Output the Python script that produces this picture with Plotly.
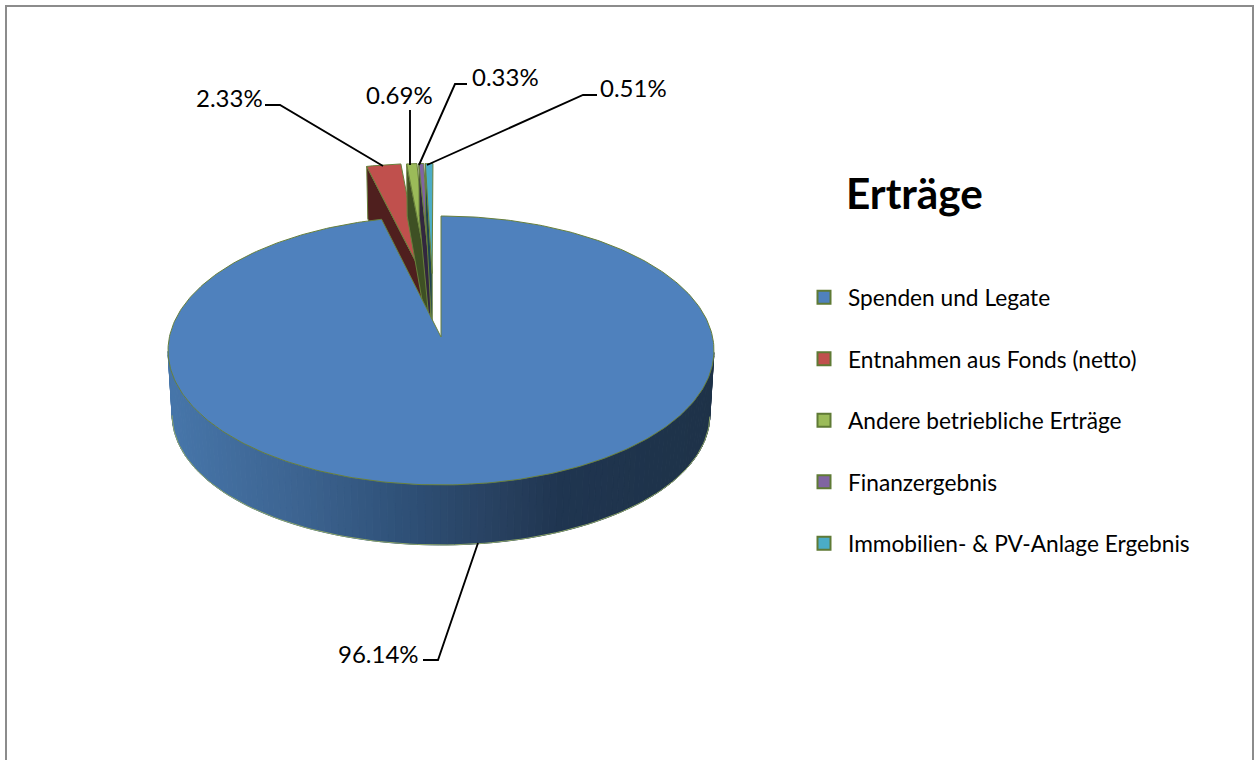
import math
import plotly.graph_objects as go

# ---------- data ----------
categories = ["Spenden und Legate", "Entnahmen aus Fonds (netto)", "Andere betriebliche Erträge",
              "Finanzergebnis", "Immobilien- & PV-Anlage Ergebnis"]
values = [96.14, 2.33, 0.69, 0.33, 0.51]
title_text = "Erträge"

# ---------- style ----------
top_colors = ["#4f81bd", "#c0504d", "#9bbb59", "#8064a2", "#4bacc6"]
wall_colors = ["#1f3550", "#4f1f1e", "#3e5024", "#32273f", "#1e4450"]
edge = "#68803c"
FONT = "Lato"
W, H = 1255, 760

# perspective model of the pie disc (unit disc -> pixels)
CX, CY, A, B, K = 441.0, 337.0, 271.6, 133.1, 0.1004
SHRINK = 0.985


def project(u, v):
    w = 1 + K * v
    return CX + A * u / w, CY - B * v / w


def depth(v):
    return 64 - 0.8 * v - 4.8 * v * v


def lower(u, v):
    x, y = project(u, v)
    return CX + (x - CX) * SHRINK, y + depth(v)


def lerp_color(x):
    stops = [(172, (70, 117, 169)), (300, (60, 99, 144)), (400, (47, 81, 120)),
             (500, (39, 64, 95)), (560, (31, 53, 80)), (714, (30, 50, 72))]
    if x <= stops[0][0]:
        c = stops[0][1]
    elif x >= stops[-1][0]:
        c = stops[-1][1]
    else:
        for (x0, c0), (x1, c1) in zip(stops, stops[1:]):
            if x0 <= x <= x1:
                t = (x - x0) / (x1 - x0)
                c = tuple(round(a + (b - a) * t) for a, b in zip(c0, c1))
                break
    return "rgb(%d,%d,%d)" % c


total = sum(values)
# angles clockwise from 12 o'clock
bounds = [0.0]
for val in values:
    bounds.append(bounds[-1] + val / total * 2 * math.pi)


def arc(t0, t1, n):
    return [t0 + (t1 - t0) * i / n for i in range(n + 1)]


fig = go.Figure()


def poly(xs, ys, fill, line=None, width=1):
    fig.add_trace(go.Scatter(
        x=xs, y=ys, mode="lines", fill="toself", fillcolor=fill,
        line=dict(color=line or fill, width=width), hoverinfo="skip", showlegend=False))


# exploded small slices, back to front
for i in range(1, len(values)):
    t0, t1 = bounds[i], bounds[i + 1]
    mid = (t0 + t1) / 2
    u0 = -0.03 + 0.26 * math.sin(mid)
    v0 = 0.5
    ue, ve = u0 + math.sin(t0), v0 + math.cos(t0)
    # inner wall under the left radial edge
    p1 = project(ue, ve)
    p2 = lower(ue, ve)
    p3 = lower(u0, v0)
    p4 = project(u0, v0)
    poly([p1[0], p2[0], p3[0], p4[0], p1[0]], [p1[1], p2[1], p3[1], p4[1], p1[1]], wall_colors[i], edge)
    xs, ys = [p4[0]], [p4[1]]
    for t in arc(t0, t1, 6):
        q = project(u0 + math.sin(t), v0 + math.cos(t))
        xs.append(q[0])
        ys.append(q[1])
    xs.append(p4[0])
    ys.append(p4[1])
    poly(xs, ys, top_colors[i], edge)

# main slice: front wall made of shaded strips
t0, t1 = bounds[0], bounds[1]
ts = [t for t in arc(t0, t1, 240) if math.cos(t) < -0.1]
for a, b in zip(ts, ts[1:]):
    p1 = project(math.sin(a), math.cos(a))
    p2 = project(math.sin(b), math.cos(b))
    p3 = lower(math.sin(b), math.cos(b))
    p4 = lower(math.sin(a), math.cos(a))
    poly([p1[0], p2[0], p3[0], p4[0], p1[0]], [p1[1], p2[1], p3[1], p4[1], p1[1]],
         lerp_color((p1[0] + p2[0]) / 2))
low = [lower(math.sin(t), math.cos(t)) for t in ts]
fig.add_trace(go.Scatter(x=[p[0] for p in low], y=[p[1] for p in low], mode="lines",
                         line=dict(color="#8ea66a", width=1), hoverinfo="skip", showlegend=False))

# main slice: top surface
pts = [project(0, 0)] + [project(math.sin(t), math.cos(t)) for t in arc(t0, t1, 360)] + [project(0, 0)]
poly([p[0] for p in pts], [p[1] for p in pts], top_colors[0], edge)

# legend entries
for i, name in enumerate(categories):
    fig.add_trace(go.Scatter(
        x=[None], y=[None], mode="markers", name=name, legendgroup=str(i),
        marker=dict(symbol="square", size=13, color=top_colors[i], line=dict(color="#5f7a35", width=2))))

# leader lines and labels
leaders = [
    ([478, 438, 423], [543, 660, 660], 378, 653),
    ([383, 280, 265], [166, 105, 105], 229, 97),
    ([410, 410], [165, 110], 399, 94),
    ([419, 455, 467], [165, 84, 84], 505, 76),
    ([427, 583, 597], [165, 95, 95], 633, 87),
]
for val, (lx, ly, tx, ty) in zip(values, leaders):
    fig.add_trace(go.Scatter(x=lx, y=ly, mode="lines", line=dict(color="#000000", width=1.9),
                             hoverinfo="skip", showlegend=False))
    fig.add_annotation(x=tx, y=ty, xref="x", yref="y", text=f"{val:.2f}%", showarrow=False,
                       font=dict(family=FONT, size=24, color="#000000"))

fig.update_layout(
    width=W, height=H, margin=dict(l=0, r=0, t=0, b=0),
    paper_bgcolor="white", plot_bgcolor="white",
    xaxis=dict(range=[0, W], visible=False, fixedrange=True),
    yaxis=dict(range=[H, 0], visible=False, fixedrange=True),
    title=dict(text=f"<b>{title_text}</b>", x=846 / W, xanchor="left", y=1 - 194 / H, yanchor="middle",
               font=dict(family=FONT, size=42.3, color="#000000")),
    legend=dict(x=800 / W, xanchor="left", y=1 - 276 / H, yanchor="top", tracegroupgap=29, itemwidth=38,
                font=dict(family=FONT, size=22.7, color="#000000"), bgcolor="rgba(0,0,0,0)"),
    shapes=[dict(type="rect", xref="paper", yref="paper", x0=6 / W, x1=1253 / W, y0=-0.02, y1=1 - 6 / H,
                 line=dict(color="#8c8c8c", width=2), fillcolor="rgba(0,0,0,0)")],
)

fig.write_html("out.html", config=dict(displayModeBar=False),
               post_script="document.body.style.margin='0';document.documentElement.style.overflow='hidden';")
